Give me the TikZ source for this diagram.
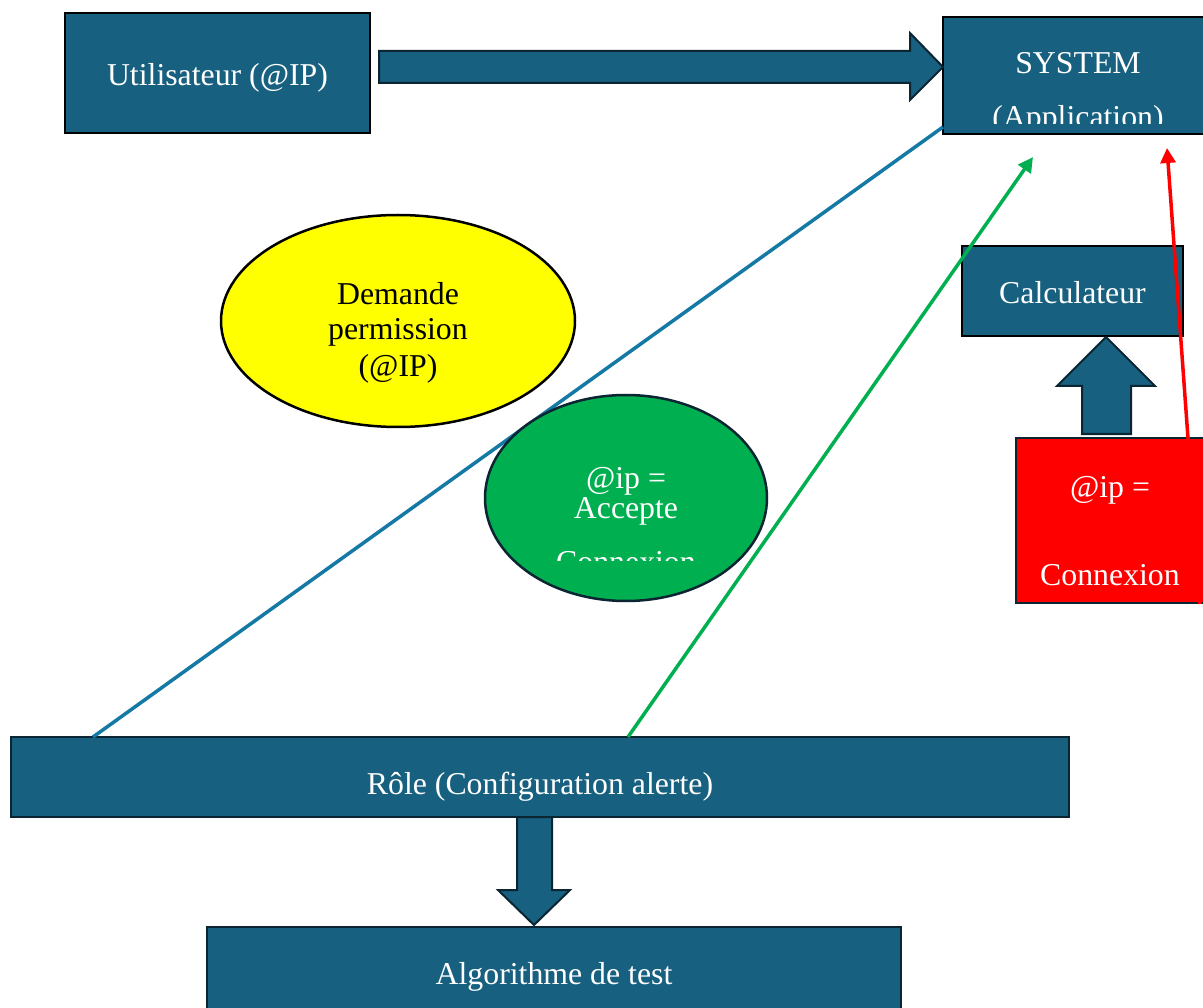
\documentclass[tikz,border=0pt]{standalone}
\usepackage{fontspec}
\setmainfont{Liberation Serif}
\usetikzlibrary{shapes.geometric,arrows.meta}
\definecolor{boxblue}{HTML}{17607F}
\definecolor{edgenavy}{HTML}{0C2533}
\definecolor{linkblue}{HTML}{1479A5}
\definecolor{okgreen}{HTML}{00B050}
\definecolor{alertred}{HTML}{FF0000}
\definecolor{askyellow}{HTML}{FFFF00}
\tikzset{
  box/.style={draw=edgenavy, line width=2.5pt, fill=boxblue, rectangle, inner sep=0pt},
  bigarrow/.style={draw=edgenavy, line width=2pt, fill=boxblue, line join=miter},
  txt/.style={font=\fontsize{31.8}{38}\selectfont, inner sep=0pt, anchor=base},
  wtxt/.style={txt, text=white},
  link/.style={line width=3.5pt},
  linktip/.style={-{Triangle[length=15pt,width=15pt]}},
}
\begin{document}
\begin{tikzpicture}[x=1pt,y=-1pt]
\useasboundingbox (0,0) rectangle (1203,1008);
\clip (0,0) rectangle (1203,1008);
\fill[white] (0,0) rectangle (1203,1008);

% boxes
\node[box, draw=black, minimum width=305, minimum height=120] (util) at (217.5,73) {};
\node[box, draw=black, minimum width=270, minimum height=117] (sys) at (1078,75.5) {};
\node[box, draw=black, minimum width=221, minimum height=90] (calc) at (1072.5,291) {};
\node[box, fill=alertred, minimum width=200, minimum height=165] (conn) at (1116,520.5) {};
\node[box, minimum width=1058, minimum height=80] (role) at (540,777) {};
\node[box, minimum width=694, minimum height=100] (algo) at (554,977) {};

% box captions
\node[wtxt] (utiltxt) at (217.5,86) {Utilisateur (@IP)};
\node[wtxt] (systxt) at (1078,74) {SYSTEM};
\begin{scope}
  \clip (943,17) rectangle (1203,124);
  \node[wtxt] (apptxt) at (1078,128) {(Application)};
\end{scope}
\node[wtxt] (calctxt) at (1072.5,304) {Calculateur};
\node[wtxt] (conntxta) at (1110,497) {@ip =};
\node[wtxt] (conntxtb) at (1110,585) {Connexion};
\node[wtxt] (roletxt) at (540,794) {Rôle (Configuration alerte)};
\node[wtxt] (algotxt) at (554,984) {Algorithme de test};

% block arrows
\draw[bigarrow] (379,51) -- (910,51) -- (910,33) -- (943,67) -- (910,100)
  -- (910,83) -- (379,83) -- cycle;
\draw[bigarrow] (1082,434) -- (1082,386) -- (1057,386) -- (1106,337)
  -- (1155,386) -- (1131,386) -- (1131,434) -- cycle;
\draw[bigarrow] (517,817) -- (552,817) -- (552,890) -- (570,890) -- (534,925)
  -- (498,890) -- (517,890) -- cycle;

% request ellipse
\node[ellipse, draw=black, line width=2.5pt, fill=askyellow,
      minimum width=354, minimum height=212, inner sep=0pt] (ask) at (398,321) {};
\node[txt] (asktxta) at (398,305) {Demande};
\node[txt] (asktxtb) at (398,340) {permission};
\node[txt] (asktxtc) at (398,377) {(@IP)};

% links
\coordinate (bluefrom) at (93,737);
\coordinate (blueto) at (943,127);
\draw[link, linkblue] (bluefrom) -- (blueto);

\coordinate (greenfrom) at (628,737);
\coordinate (greento) at (1033,157);
\draw[link, okgreen, linktip] (greenfrom) -- (greento);

\coordinate (redfrom) at (1200,604);
\coordinate (redto) at (1167,148);
\draw[link, alertred, linktip] (redfrom) -- (redto);

% acceptance ellipse
\node[ellipse, draw=edgenavy, line width=2.5pt, fill=okgreen,
      minimum width=282, minimum height=206, inner sep=0pt] (ok) at (626,498) {};
\node[wtxt] (oktxta) at (626,488) {@ip =};
\node[wtxt] (oktxtb) at (626,518) {Accepte};
\begin{scope}
  \clip (480,395) rectangle (780,560);
  \node[wtxt] (oktxtc) at (626,572) {Connexion};
\end{scope}
\end{tikzpicture}
\end{document}
